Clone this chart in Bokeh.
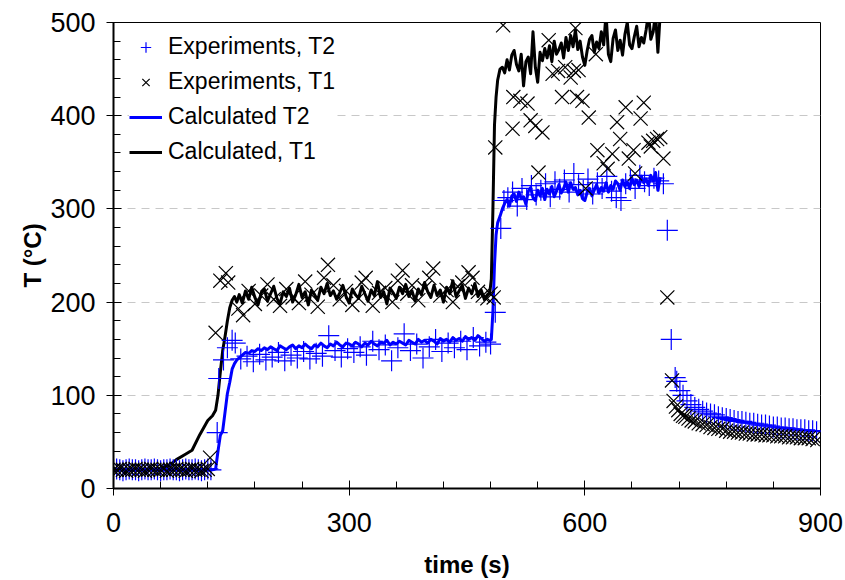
from bokeh.plotting import figure
from bokeh.models import Range1d, FixedTicker, Legend, LegendItem
from bokeh.embed import file_html
from bokeh.resources import INLINE

# ---------------- data ----------------
# calculated curves (shared time base, s)
t_calc = [0, 20, 40, 60, 70, 80, 90, 100, 110, 120, 126, 130, 133, 136, 139, 142, 145, 148, 151, 154, 157,
          160, 164, 168, 172, 176, 180, 184, 188, 192, 196,
          200, 204, 208, 212, 216, 220, 224, 228, 232, 236,
          240, 244, 248, 252, 256, 260, 264, 268, 272, 276,
          280, 284, 288, 292, 296, 300, 304, 308, 312, 316,
          320, 324, 328, 332, 336, 340, 344, 348, 352, 356,
          360, 364, 368, 372, 376, 380, 384, 388, 392, 396,
          400, 404, 408, 412, 416, 420, 424, 428, 432, 436,
          440, 444, 448, 452, 456, 460, 464, 468, 472, 476,
          479, 481, 483, 485, 487, 489, 492,
          495, 498, 501, 504, 507, 510, 513, 516, 519, 522, 525, 528, 531, 534, 537, 540, 543, 546, 549, 552,
          555, 558, 561, 564, 567, 570, 573, 576, 579, 582, 585, 588, 591, 594, 597, 600, 603, 606, 609, 612,
          615, 618, 621, 624, 627, 630, 633, 636, 639, 642, 645, 648, 651, 654, 657, 660, 663, 666, 669, 672,
          675, 678, 681, 684, 687, 690, 693, 696]

calc_T1 = [20, 20, 20, 21, 24, 31, 36, 41, 58, 73, 78, 84, 100, 125, 148, 163, 180, 194, 202, 206, 200,
           208, 199, 212, 203, 216, 205, 197, 210, 214, 201,
           209, 217, 204, 198, 211, 206, 215, 200, 208, 219,
           205, 211, 197, 213, 208, 202, 216, 209, 220, 207,
           212, 203, 210, 218, 206, 199, 214, 208, 204, 217,
           209, 201, 213, 207, 222, 205, 211, 198, 215, 210,
           204, 216, 209, 219, 206, 212, 201, 214, 208, 221,
           211, 205, 218, 207, 213, 200, 216, 209, 223, 206,
           212, 218, 204, 215, 209, 220, 206, 213, 203, 208,
           210, 225, 300, 390, 420, 438, 450,
           452, 446, 460, 449, 465, 470, 455, 448, 466, 432, 458, 463, 445, 490, 452, 436, 468, 459, 472, 462,
           475, 458, 480, 466, 471, 478, 462, 484, 470, 486, 474, 492, 471, 480, 463, 454, 470, 482, 486, 468,
           479, 472, 490, 476, 510, 466, 458, 483, 492, 470, 481, 465, 487, 500, 476, 472, 485, 496, 474, 484,
           478, 492, 510, 482, 490, 510, 468, 510]

calc_T2 = [20, 20, 20, 20, 20, 20, 20, 20, 20, 20, 20, 21, 40, 57, 62, 82, 102, 114, 128, 134, 138,
           140, 143, 146, 145, 148, 147, 150, 148, 151, 149,
           152, 150, 148, 153, 151, 149, 152, 154, 150, 153,
           151, 155, 152, 150, 154, 152, 156, 153, 151, 155,
           153, 157, 154, 152, 156, 155, 153, 157, 155, 152,
           156, 154, 158, 155, 153, 157, 156, 159, 154, 157,
           155, 158, 156, 154, 159, 157, 155, 160, 157, 159,
           156, 160, 158, 155, 161, 158, 160, 157, 162, 159,
           161, 158, 163, 160, 162, 159, 164, 161, 158, 160,
           159, 160, 190, 240, 272, 285, 292,
           300, 306, 310, 303, 314, 316, 308, 318, 311, 313, 305, 319, 323, 312, 309, 320, 314, 322, 310, 321,
           316, 324, 313, 319, 326, 317, 322, 329, 318, 328, 321, 323, 315, 320, 311, 309, 318, 322, 314, 320,
           326, 317, 323, 319, 328, 318, 325, 321, 330, 327, 320, 331, 324, 329, 322, 333, 326, 331, 324, 335,
           328, 332, 325, 336, 330, 339, 320, 334]

# experiments, T2 (+)
t_exp2 = [0, 4, 8, 12, 16, 20, 24, 28, 32, 36, 40, 44, 48, 52, 56, 60, 64, 68, 72, 76, 80, 84, 88, 92, 96,
          100, 104, 108, 112, 116, 120, 124,
          132, 134, 140, 145, 151, 155,
          162, 170, 178, 186, 194, 202, 210, 218, 226, 234, 242, 250, 258, 266, 274, 282, 290, 298, 306, 314,
          322, 330, 338, 346, 354, 362, 370, 378, 386, 394, 402, 410, 418, 426, 434, 442, 450, 458, 466, 474,
          480, 486, 493,
          497, 502, 508, 514, 520, 526, 532, 538, 544, 550, 556, 562, 568, 574, 580, 586, 592, 598, 604, 610,
          616, 622, 628, 634, 640, 646, 652, 658, 664, 670, 676, 682, 688, 694, 700,
          705, 710, 715, 717, 721, 725, 730, 735, 740, 745, 750, 755, 760, 765, 770, 775, 780, 785, 790, 795,
          800, 805, 810, 815, 820, 825, 830, 835, 840, 845, 850, 855, 860, 865, 870, 875, 880, 885, 890, 895]
T_exp2 = [20, 21, 20, 19, 20, 21, 20, 20, 19, 20, 21, 20, 20, 21, 20, 19, 20, 20, 21, 20, 20, 19, 20, 21, 20,
          20, 21, 20, 19, 20, 21, 20,
          60, 118, 138, 151, 159, 156,
          139, 142, 136, 144, 138, 141, 146, 137, 143, 140, 147, 139, 145, 142, 164, 148, 141, 150, 146, 152,
          143, 158, 149, 154, 137, 151, 166, 148, 155, 140, 152, 160, 147, 156, 151, 158, 149, 162, 153, 157,
          155, 189, 279,
          309, 312, 318, 303, 322, 310, 325, 315, 320, 327, 313, 329, 321, 331, 318, 338, 326, 320, 332, 316,
          328, 322, 335, 319, 312, 309, 327, 331, 322, 336, 329, 325, 333, 330, 327,
          277, 160, 119, 115, 105, 100, 94, 90, 87, 85, 83, 81, 80, 79, 77, 76, 75, 74, 73, 72,
          72, 71, 70, 70, 69, 68, 68, 67, 66, 66, 65, 65, 64, 64, 63, 63, 63, 62, 62, 61]

# experiments, T1 (x)
t_exp1 = [0, 4, 8, 12, 16, 20, 24, 28, 32, 36, 40, 44, 48, 52, 56, 60, 64, 68, 72, 76, 80, 84, 88, 92, 96,
          100, 104, 108, 112, 116, 120,
          123, 130, 136, 143, 146, 159, 165,
          172, 180, 188, 196, 204, 212, 220, 228, 236, 244, 252, 260, 268, 273, 280, 288, 296, 304, 312, 316,
          321, 330, 338, 346, 355, 362, 368, 374, 380, 388, 396, 402, 407, 416, 424, 432, 438, 444, 452, 457,
          464, 470, 476, 480, 484,
          486, 496, 508, 509, 518, 527, 531, 537, 541, 546, 554, 559, 566, 571, 575, 582, 586, 588, 590, 592,
          597, 601, 605, 614, 616, 624, 629, 635, 641, 645, 652, 656, 662, 664, 671, 675, 681, 684, 687, 692,
          696, 700,
          705, 711, 713, 716, 719, 722, 725, 728, 732, 736, 740, 745, 750, 755, 760, 765, 770, 775, 780, 785,
          790, 795, 800, 805, 810, 815, 820, 825, 830, 835, 840, 845, 850, 855, 860, 865, 870, 875, 880, 885,
          890, 896]
T_exp1 = [20, 20, 21, 20, 19, 20, 20, 21, 20, 20, 19, 20, 21, 20, 20, 20, 21, 19, 20, 20, 21, 20, 20, 19, 20,
          21, 20, 20, 19, 20, 21,
          33, 167, 223, 231, 221, 193, 186,
          212, 198, 207, 219, 203, 196, 214, 205, 199, 222, 208, 195, 226, 240, 218, 203, 212, 197, 204, 221,
          226, 196, 210, 215, 200, 223, 234, 209, 218, 202, 215, 226, 236, 207, 213, 200, 217, 221, 232, 226,
          211, 207, 204, 209, 205,
          366, 497, 386, 420, 416, 413, 395, 389, 339, 382, 481, 445, 448, 420, 452, 441, 448, 494, 420, 449,
          416, 322, 398, 466, 363, 349, 343, 359, 393, 375, 409, 354, 363, 338, 397, 414, 371, 367, 373, 375,
          377, 354,
          205, 116, 94, 88, 84, 80, 78, 77, 75, 73, 72, 70, 69, 68, 66, 65, 64, 64, 62, 61,
          61, 60, 60, 59, 59, 58, 58, 58, 57, 57, 57, 56, 56, 56, 55, 55, 55, 54, 54, 54,
          53, 52]

x_ticks = [0, 300, 600, 900]
y_ticks = [0, 100, 200, 300, 400, 500]

FONT = "Liberation Sans"

# ---------------- figure ----------------
p = figure(width=845, height=580, output_backend="svg", toolbar_location=None,
           x_range=Range1d(0, 900), y_range=Range1d(0, 500),
           min_border_left=113, min_border_right=25, min_border_top=22, min_border_bottom=92)
p.background_fill_color = "white"
p.border_fill_color = "white"
p.outline_line_color = "black"
p.outline_line_width = 1

p.xgrid.visible = False
p.ygrid.grid_line_color = "#c8c8c8"
p.ygrid.grid_line_dash = "8 6"
p.ygrid.grid_line_width = 1.2

p.xaxis.ticker = FixedTicker(ticks=x_ticks, minor_ticks=list(range(0, 901, 60)))
p.yaxis.ticker = FixedTicker(ticks=y_ticks, minor_ticks=list(range(0, 501, 20)))

for ax in (p.xaxis[0], p.yaxis[0]):
    ax.axis_line_color = "black"
    ax.axis_line_width = 2
    ax.major_tick_line_color = "black"
    ax.minor_tick_line_color = "black"
    ax.major_tick_line_width = 1
    ax.minor_tick_line_width = 1
    ax.major_tick_in = 8
    ax.major_tick_out = 7
    ax.minor_tick_in = 7
    ax.minor_tick_out = 0
    ax.major_label_text_font = FONT
    ax.major_label_text_font_size = "27px"
    ax.major_label_text_color = "black"
    ax.axis_label_text_font = FONT
    ax.axis_label_text_font_size = "24px"
    ax.axis_label_text_font_style = "bold"
    ax.axis_label_text_color = "black"

p.xaxis.axis_label = "time (s)"
p.yaxis.axis_label = "T (°C)"
p.xaxis.major_label_standoff = 17
p.yaxis.major_label_standoff = 11
p.xaxis.axis_label_standoff = 16
p.yaxis.axis_label_standoff = 1

r_c2 = p.line(t_calc, calc_T2, line_color="#0000ff", line_width=3, line_join="round")
r_c1 = p.line(t_calc, calc_T1, line_color="black", line_width=3, line_join="round")
r_e2 = p.scatter(t_exp2, T_exp2, marker="cross", size=21, line_color="#0000ff", line_width=1.2)
r_e1 = p.scatter(t_exp1, T_exp1, marker="x", size=20, line_color="black", line_width=1.2)

legend = Legend(items=[
    LegendItem(label="Experiments, T2", renderers=[r_e2]),
    LegendItem(label="Experiments, T1", renderers=[r_e1]),
    LegendItem(label="Calculated T2", renderers=[r_c2]),
    LegendItem(label="Calculated, T1", renderers=[r_c1]),
], location=(16, 323))
legend.border_line_color = None
legend.background_fill_color = "white"
legend.background_fill_alpha = 1
legend.padding = 8
legend.margin = 0
legend.spacing = 8
legend.glyph_width = 33
legend.glyph_height = 26
legend.label_height = 26
legend.label_standoff = 6
legend.label_text_font = FONT
legend.label_text_font_size = "23px"
legend.label_text_color = "black"
p.add_layout(legend)

open("out.html", "w").write(file_html(p, INLINE))
